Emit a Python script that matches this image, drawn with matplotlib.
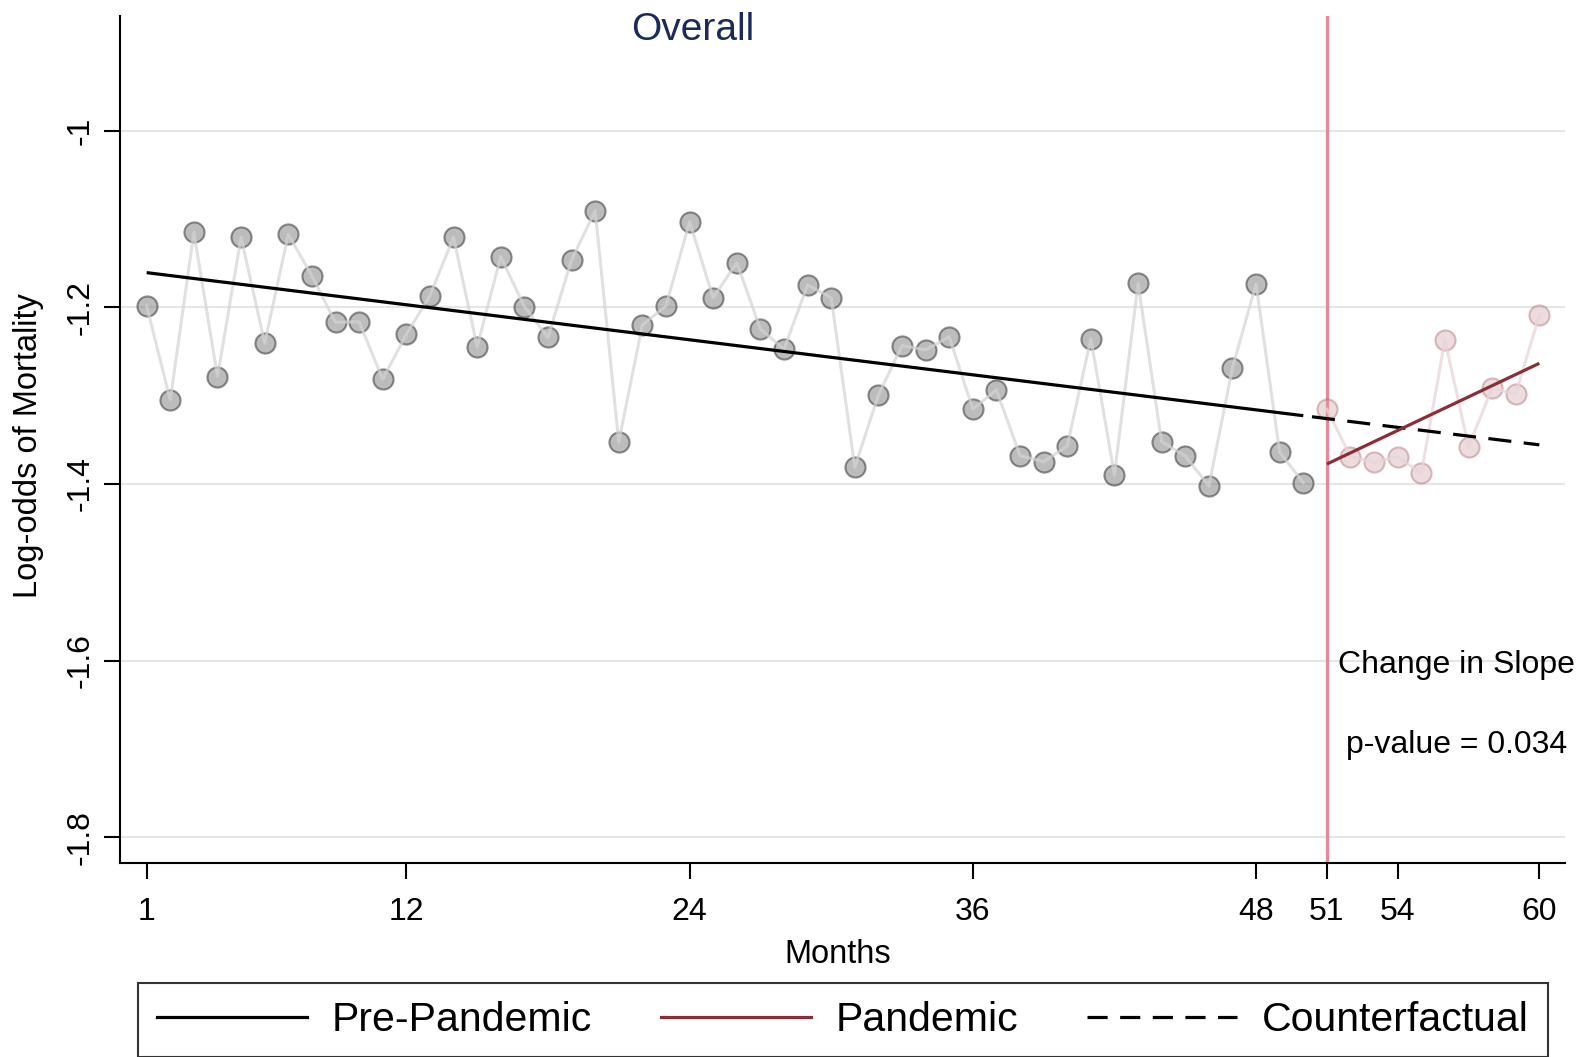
import matplotlib
matplotlib.use("Agg")
import matplotlib.pyplot as plt
from matplotlib.lines import Line2D

plt.rcParams['font.family'] = ['Liberation Sans', 'DejaVu Sans']
plt.rcParams['lines.scale_dashes'] = False

# ---------------- data ----------------
pre_months = list(range(1, 51))
pre_values = [-1.1985, -1.305, -1.1151, -1.2785, -1.1208, -1.2408, -1.1174, -1.1646, -1.217, -1.2163,
              -1.2815, -1.2306, -1.1868, -1.1208, -1.2446, -1.1427, -1.1993, -1.234, -1.1465, -1.0907,
              -1.3525, -1.22, -1.1985, -1.1031, -1.1891, -1.1495, -1.2246, -1.2475, -1.1748, -1.1891,
              -1.3811, -1.2993, -1.2434, -1.2483, -1.2333, -1.3151, -1.2936, -1.3679, -1.3747, -1.357,
              -1.2355, -1.3898, -1.1729, -1.3521, -1.3683, -1.4023, -1.2684, -1.1736, -1.3641, -1.3985]
pan_months = list(range(51, 61))
pan_values = [-1.3155, -1.369, -1.3755, -1.369, -1.3879, -1.237, -1.3578, -1.2917, -1.2981, -1.2087]

# fitted segments (endpoints)
pre_fit_x = [1, 50]
pre_fit_y = [-1.1608, -1.3227]
cf_fit_x = [50, 60]
cf_fit_y = [-1.3227, -1.3557]
pan_fit_x = [51, 60]
pan_fit_y = [-1.3774, -1.2634]

x_ticks = [1, 12, 24, 36, 48, 51, 54, 60]
y_ticks = [-1.8, -1.6, -1.4, -1.2, -1.0]
y_tick_labels = ['-1.8', '-1.6', '-1.4', '-1.2', '-1']
intervention = 51
legend_labels = ['Pre-Pandemic', 'Pandemic', 'Counterfactual']
title = 'Overall'
x_label = 'Months'
y_label = 'Log-odds of Mortality'
annot_lines = ['Change in Slope', 'p-value = 0.034']

# ---------------- figure ----------------
W, H = 1586, 1057
fig = plt.figure(figsize=(W / 100, H / 100), dpi=100)
ax_l, ax_r, ax_t, ax_b = 120, 1565.3, 15.7, 862.7
ax = fig.add_axes([ax_l / W, 1 - ax_b / H, (ax_r - ax_l) / W, (ax_b - ax_t) / H])

ax.set_xlim(-0.13, 61.1)
ax.set_ylim(-1.8286, -0.870)

ax.set_yticks(y_ticks)
ax.set_yticklabels(y_tick_labels)
ax.set_xticks(x_ticks)
ax.set_xticklabels([str(t) for t in x_ticks])
ax.grid(axis='y', color='#e6e6e6', lw=1.5, zorder=0)
ax.grid(axis='x', visible=False)
ax.set_axisbelow(True)

for s in ['top', 'right']:
    ax.spines[s].set_visible(False)
for s in ['left', 'bottom']:
    ax.spines[s].set_linewidth(1.5)
    ax.spines[s].set_color('black')

ax.tick_params(axis='both', length=11.5, width=1.5, color='black', labelsize=23)
ax.tick_params(axis='x', pad=13.5)
ax.tick_params(axis='y', pad=6)
plt.setp(ax.get_yticklabels(), rotation=90, va='center', ha='right')

# vertical intervention line
ax.axvline(intervention, color='#e3899d', lw=2.4, zorder=1)

# observed points
ax.scatter(pre_months, pre_values, s=210, facecolors=[(0.48, 0.48, 0.48, 0.5)],
           edgecolors=[(0.15, 0.15, 0.15, 0.5)], linewidths=1.5, zorder=2)
ax.plot(pre_months, pre_values, color='#d4d4d4', alpha=0.7, lw=2.2, zorder=3)
ax.scatter(pan_months, pan_values, s=210, facecolors=[(206/255, 164/255, 169/255, 0.38)],
           edgecolors=[(164/255, 89/255, 95/255, 0.38)], linewidths=1.5, zorder=2)
ax.plot(pan_months, pan_values, color='#e9d5d8', alpha=0.75, lw=2.2, zorder=3)

# fitted lines
pan_color = '#8b2d37'
ax.plot(pre_fit_x, pre_fit_y, color='black', lw=2.3, zorder=5, solid_capstyle='butt')
ax.plot(cf_fit_x, cf_fit_y, color='black', lw=2.3, zorder=5,
        linestyle=(19.3, (16.6, 9.0)), dash_capstyle='butt')
ax.plot(pan_fit_x, pan_fit_y, color=pan_color, lw=2.3, zorder=6, solid_capstyle='butt')

# annotation
ax.text(56.5, -1.605, annot_lines[0], ha='center', va='center', fontsize=23)
ax.text(56.5, -1.695, annot_lines[1], ha='center', va='center', fontsize=23)

# labels
ax.set_xlabel(x_label, fontsize=23.5)
ax.xaxis.set_label_coords(0.4964, -0.0906)
ax.set_ylabel(y_label, fontsize=23.5)
ax.yaxis.set_label_coords(-0.0527, 0.493)

fig.text(693 / W, 1 - 29.5 / H, title, ha='center', va='center', fontsize=28, color='#1b2a5a')

# legend
handles = [Line2D([], [], color='black', lw=2.3),
           Line2D([], [], color=pan_color, lw=2.3),
           Line2D([], [], color='black', lw=2.3, linestyle=(0, (14.5, 9.0)))]
leg = fig.legend(handles, legend_labels, loc='center', bbox_to_anchor=(843 / W, 1 - 1020 / H),
                 ncol=3, fontsize=29.5, frameon=True, fancybox=False, edgecolor='black',
                 handlelength=3.66, handletextpad=0.61, columnspacing=1.68, borderpad=0.45)
leg.get_frame().set_linewidth(1.5)

fig.savefig('out.png', dpi=100)
